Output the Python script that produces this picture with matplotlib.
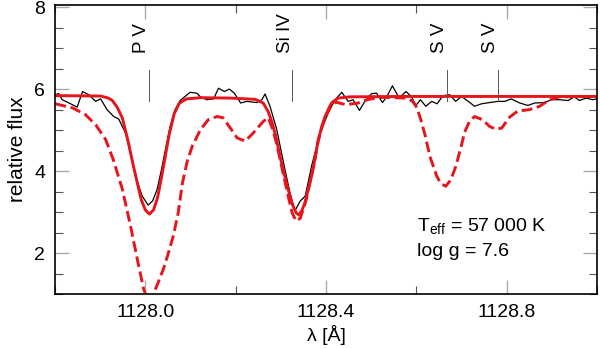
import matplotlib
matplotlib.use("Agg")
import matplotlib.pyplot as plt
from matplotlib.ticker import MultipleLocator
from matplotlib.transforms import offset_copy

plt.rcParams["font.family"] = ["Liberation Sans", "DejaVu Sans"]
plt.rcParams["font.size"] = 14
plt.rcParams["mathtext.fontset"] = "custom"
plt.rcParams["mathtext.rm"] = "Liberation Sans"

# observed spectrum
obs_wave = [1127.801, 1127.808, 1127.816, 1127.831, 1127.849, 1127.861, 1127.875, 1127.890,
            1127.901, 1127.915, 1127.930, 1127.941, 1127.956, 1127.967, 1127.978, 1127.993,
            1128.006, 1128.016, 1128.026, 1128.035, 1128.044, 1128.055, 1128.066, 1128.077,
            1128.088, 1128.099, 1128.114, 1128.122, 1128.136, 1128.151, 1128.162, 1128.175,
            1128.186, 1128.197, 1128.211, 1128.225, 1128.247, 1128.258, 1128.265, 1128.276,
            1128.291, 1128.306, 1128.320, 1128.331, 1128.343, 1128.354, 1128.368, 1128.387,
            1128.405, 1128.420, 1128.435, 1128.449, 1128.460, 1128.474, 1128.486, 1128.501,
            1128.512, 1128.525, 1128.535, 1128.547, 1128.562, 1128.577, 1128.589, 1128.599,
            1128.609, 1128.621, 1128.634, 1128.646, 1128.659, 1128.674, 1128.687, 1128.700,
            1128.715, 1128.729, 1128.744, 1128.762, 1128.781, 1128.796, 1128.810, 1128.829,
            1128.847, 1128.862, 1128.884, 1128.899, 1128.917, 1128.936, 1128.950, 1128.961,
            1128.976, 1128.991, 1128.999]
obs_flux = [5.86, 5.89, 5.74, 5.66, 5.56, 5.94, 5.86, 5.70,
            5.76, 5.50, 5.33, 5.27, 4.93, 4.45, 3.88, 3.39,
            3.17, 3.27, 3.55, 4.00, 4.50, 5.10, 5.50, 5.72,
            5.82, 5.92, 5.90, 5.81, 5.74, 5.76, 6.02, 5.94,
            6.00, 5.90, 5.66, 5.70, 5.67, 5.74, 5.88, 5.58,
            5.01, 4.20, 3.48, 3.03, 3.27, 3.39, 4.12, 4.93,
            5.42, 5.74, 5.92, 5.70, 5.74, 5.48, 5.70, 5.89,
            5.90, 5.67, 5.82, 6.08, 5.78, 5.94, 5.82, 5.60,
            5.74, 5.58, 5.70, 5.64, 5.84, 5.86, 5.70, 5.82,
            5.70, 5.58, 5.64, 5.67, 5.70, 5.70, 5.76, 5.66,
            5.60, 5.66, 5.67, 5.74, 5.74, 5.72, 5.81, 5.72,
            5.78, 5.74, 5.76]

# model, solid
mod1_wave = [1127.801, 1127.901, 1127.918, 1127.927, 1127.938, 1127.949, 1127.962, 1127.973,
             1127.982, 1127.991, 1128.000, 1128.009, 1128.018, 1128.027, 1128.035, 1128.044,
             1128.053, 1128.064, 1128.075, 1128.091, 1128.122, 1128.188, 1128.243, 1128.261,
             1128.272, 1128.281, 1128.290, 1128.298, 1128.307, 1128.316, 1128.325, 1128.334,
             1128.340, 1128.347, 1128.354, 1128.362, 1128.369, 1128.376, 1128.382, 1128.391,
             1128.398, 1128.407, 1128.413, 1128.427, 1128.453, 1128.564, 1128.999]
mod1_flux = [5.84, 5.83, 5.78, 5.72, 5.55, 5.30, 4.72, 4.15,
             3.72, 3.30, 3.05, 2.95, 3.05, 3.35, 3.80, 4.35,
             4.90, 5.40, 5.65, 5.76, 5.79, 5.78, 5.75, 5.66,
             5.45, 5.17, 4.80, 4.36, 3.95, 3.56, 3.20, 2.98,
             2.93, 3.05, 3.25, 3.62, 3.92, 4.32, 4.72, 5.10,
             5.33, 5.55, 5.67, 5.78, 5.81, 5.82, 5.82]

# model, dashed
mod2_wave = [1127.801, 1127.839, 1127.867, 1127.890, 1127.912, 1127.929, 1127.949, 1127.967,
             1127.982, 1127.996, 1128.007, 1128.018, 1128.029, 1128.040, 1128.051, 1128.062,
             1128.073, 1128.082, 1128.093, 1128.104, 1128.122, 1128.139, 1128.159, 1128.172,
             1128.188, 1128.203, 1128.221, 1128.239, 1128.261, 1128.272, 1128.281, 1128.290,
             1128.298, 1128.307, 1128.316, 1128.325, 1128.334, 1128.343, 1128.349, 1128.356,
             1128.362, 1128.369, 1128.376, 1128.382, 1128.391, 1128.400, 1128.409, 1128.422,
             1128.444, 1128.471, 1128.491, 1128.519, 1128.579, 1128.592, 1128.601, 1128.610,
             1128.620, 1128.630, 1128.645, 1128.654, 1128.665, 1128.676, 1128.687, 1128.698,
             1128.707, 1128.718, 1128.729, 1128.747, 1128.762, 1128.776, 1128.789, 1128.807,
             1128.824, 1128.851, 1128.873, 1128.895, 1128.917, 1128.999]
mod2_flux = [5.64, 5.54, 5.38, 5.13, 4.77, 4.28, 3.56, 2.67,
             1.86, 1.13, 0.80, 1.00, 1.30, 1.61, 2.00, 2.42,
             3.00, 3.70, 4.25, 4.61, 5.01, 5.25, 5.33, 5.30,
             5.05, 4.81, 4.73, 4.93, 5.21, 5.30, 5.05, 4.70,
             4.30, 3.85, 3.40, 2.98, 2.78, 2.85, 3.05, 3.30,
             3.60, 3.95, 4.32, 4.70, 5.08, 5.35, 5.55, 5.68,
             5.62, 5.66, 5.74, 5.80, 5.78, 5.70, 5.55, 5.25,
             4.85, 4.36, 3.88, 3.70, 3.63, 3.78, 4.10, 4.55,
             4.95, 5.22, 5.33, 5.25, 5.09, 5.02, 5.05, 5.32,
             5.46, 5.50, 5.58, 5.74, 5.81, 5.82]

# line identifications
line_wave = [1128.008, 1128.325, 1128.667, 1128.780]
line_names = ["P V", "Si IV", "S V", "S V"]

fig = plt.figure(figsize=(6.0, 3.48), dpi=100)
ax = fig.add_axes([0.0917, 0.155, 0.9033, 0.8306])

ax.plot(obs_wave, obs_flux, color="black", lw=0.9)
ax.plot(mod2_wave, mod2_flux, color="#e8141c", lw=2.1, ls="--")
ax.plot(mod1_wave, mod1_flux, color="#e8141c", lw=2.1)

txt_tr = offset_copy(ax.transData, fig=fig, x=-7, y=0, units="dots")
for w, name in zip(line_wave, line_names):
    ax.plot([w, w], [5.70, 6.47], color="#555555", lw=0.7)
    ax.text(w, 6.88, name, rotation=90, ha="center", va="bottom",
            fontsize=13.5, transform=txt_tr)

ax.text(1128.602, 2.52, r"T$_{\rm eff}$ = 57 000 K", fontsize=14)
ax.text(1128.602, 1.92, "log g = 7.6", fontsize=14)

ax.set_xlim(1127.8, 1129.0)
ax.set_ylim(1.0, 8.05)
ax.xaxis.set_minor_locator(MultipleLocator(0.2))
ax.yaxis.set_minor_locator(MultipleLocator(0.5))
ax.set_xticks([1128.0, 1128.4, 1128.8])
ax.set_xticklabels(["1128.0", "1128.4", "1128.8"])
ax.set_yticks([2, 4, 6, 8])

ax.tick_params(which="both", direction="in", top=True, right=True, labelsize=14)
ax.tick_params(which="major", length=10, width=1.0, color="#aaaaaa", pad=7)
ax.tick_params(which="minor", length=6, width=0.8, color="#555555")
for sp in ax.spines.values():
    sp.set_linewidth(1.2)

ax.set_xlabel("λ [Å]", fontsize=14, labelpad=3)
ax.set_ylabel("relative flux", fontsize=15, labelpad=5)

fig.savefig("out.png", dpi=100)
